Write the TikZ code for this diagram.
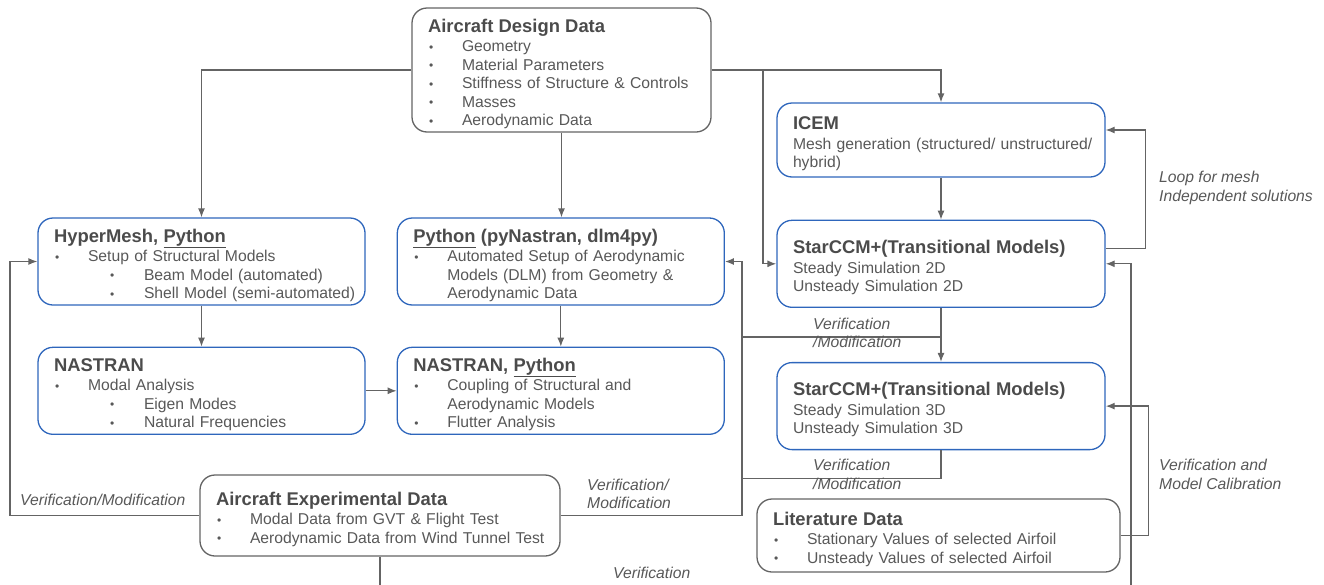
\documentclass[tikz,border=0pt]{standalone}
\usepackage{fontspec}
\setmainfont{Liberation Sans}
\usetikzlibrary{arrows.meta,positioning}
\definecolor{boxblue}{RGB}{46,102,188}
\definecolor{boxgrey}{RGB}{100,100,100}
\definecolor{linegrey}{RGB}{100,100,100}
\definecolor{textgrey}{RGB}{88,88,88}
\definecolor{titlegrey}{RGB}{75,75,75}
\newcommand{\bul}{\raisebox{0.5pt}{\fontsize{12}{12}\selectfont\textbullet}}
\newcommand{\ttl}[1]{{\fontsize{18.4}{18.5}\selectfont\bfseries\color{titlegrey}\rule{0pt}{21pt}#1}}
\newcommand{\itm}[1]{\mbox{\makebox[34pt][l]{\hspace{1pt}\bul}#1}}
\newcommand{\subitm}[1]{\mbox{\hspace*{56pt}\makebox[34pt][l]{\bul}#1}}
\newcommand{\contd}[1]{\mbox{\hspace*{34pt}#1}}
\tikzset{
  basic/.style   = {rectangle, rounded corners=15pt, line width=1.3pt, align=left,
                    inner xsep=16pt, inner ysep=1pt, text=textgrey,
                    font=\fontsize{15.7}{18.5}\selectfont},
  bluebox/.style = {basic, draw=boxblue, text width=295pt, minimum height=87pt},
  greybox/.style = {basic, draw=boxgrey},
  lbl/.style     = {font=\fontsize{15.7}{18.5}\selectfont\itshape, text=textgrey,
                    align=left, anchor=west, inner sep=0pt},
  link/.style    = {draw=linegrey, line width=1.3pt}
}

\begin{document}
\begin{tikzpicture}[x=1pt, y=1pt, >={Latex[length=9pt,width=7pt]}]
\useasboundingbox (0,0) rectangle (1324,-584);

% input data on top
\node[greybox, text width=267pt, minimum height=124pt] (add) at (561.5,-70)
  {\ttl{Aircraft Design Data}\\[1pt]
   \itm{Geometry}\\
   \itm{Material Parameters}\\
   \itm{Stiffness of Structure \& Controls}\\
   \itm{Masses}\\
   \itm{Aerodynamic Data}};

% structural and aerodynamic models, relatively positioned
\node[bluebox] (hm) at (201.5,-261.5)
  {\ttl{HyperMesh, \underline{Python}}\\[1pt]
   \itm{Setup of Structural Models}\\
   \subitm{Beam Model (automated)}\\
   \subitm{Shell Model (semi-automated)}};
\node[bluebox, right=31pt of hm] (py)
  {\ttl{\underline{Python} (pyNastran, dlm4py)}\\[1pt]
   \itm{Automated Setup of Aerodynamic}\\
   \contd{Models (DLM) from Geometry \&}\\
   \contd{Aerodynamic Data}};
\node[bluebox, below=41pt of hm] (na)
  {\ttl{NASTRAN}\\[1pt]
   \itm{Modal Analysis}\\
   \subitm{Eigen Modes}\\
   \subitm{Natural Frequencies}};
\node[bluebox, below=41pt of py] (np)
  {\ttl{NASTRAN, \underline{Python}}\\[1pt]
   \itm{Coupling of Structural and}\\
   \contd{Aerodynamic Models}\\
   \itm{Flutter Analysis}};

% CFD chain on the right
\node[bluebox, text width=296pt, minimum height=74pt] (icem) at (941,-140)
  {\ttl{ICEM}\\[1pt]
   \mbox{Mesh generation (structured/ unstructured/}\\
   hybrid)};
\node[bluebox, text width=296pt, below=42pt of icem] (s2)
  {\ttl{StarCCM+(Transitional Models)}\\[1pt]
   Steady Simulation 2D\\
   Unsteady Simulation 2D};
\node[bluebox, text width=296pt, below=54pt of s2] (s3)
  {\ttl{StarCCM+(Transitional Models)}\\[1pt]
   Steady Simulation 3D\\
   Unsteady Simulation 3D};

% reference data at the bottom
\node[greybox, text width=328pt, minimum height=81pt] (exp) at (380,-515.5)
  {\ttl{Aircraft Experimental Data}\\[1pt]
   \itm{Modal Data from GVT \& Flight Test}\\
   \itm{Aerodynamic Data from Wind Tunnel Test}};
\node[greybox, text width=331pt, minimum height=73pt] (lit) at (938.5,-535.5)
  {\ttl{Literature Data}\\[1pt]
   \itm{Stationary Values of selected Airfoil}\\
   \itm{Unsteady Values of selected Airfoil}};

% forward flow
\coordinate (br) at (763,-70);
\draw[link,->] (add.west) -| (hm.north);
\draw[link,->] (add.south) -- (add.south |- py.north);
\draw[link,->] (add.east) -| (icem.north);
\draw[link,->] (br) |- (s2.west);
\draw[link,->] (hm.south) -- (na.north);
\draw[link,->] (py.south) -- (np.north);
\draw[link,->] (na.east) -- (np.west);
\draw[link,->] (icem.south) -- (s2.north);
\draw[link,->] (s2.south) -- (s3.north);

% feedback loops
\coordinate (bus) at (742,0);
\coordinate (lbus) at (10,0);
\coordinate (rbus) at (1131,0);
\draw[link] (s2.south) ++(0,-29) -| (bus |- py.east);
\draw[link] (s3.south) -- ++(0,-28) -| (bus |- py.east);
\draw[link,->] (exp.east) -| (bus |- py.east) -- (py.east);
\draw[link,->] (exp.west) -| (lbus |- hm.west) -- (hm.west);
\draw[link,->] (exp.south) -- ++(0,-45) -| (rbus |- s2.east) -- (s2.east);
\draw[link,->] (s2.east) ++(0,15) -- ++(40,0) |- ([yshift=10pt]icem.east);
\draw[link,->] (lit.east) -- ++(28,0) |- (s3.east);

% labels of the loops
\node[lbl] (l1) at (20,-500) {Verification/Modification};
\node[lbl] (l2) at (587,-494) {Verification/\\Modification};
\node[lbl] (l3) at (813,-333) {Verification\\/Modification};
\node[lbl] (l4) at (813,-474.5) {Verification\\/Modification};
\node[lbl] (l5) at (1159,-188) {Loop for mesh\\Independent solutions};
\node[lbl] (l6) at (1159,-474.5) {Verification and\\Model Calibration};
\node[lbl] (l7) at (613,-573) {Verification};
\end{tikzpicture}
\end{document}
